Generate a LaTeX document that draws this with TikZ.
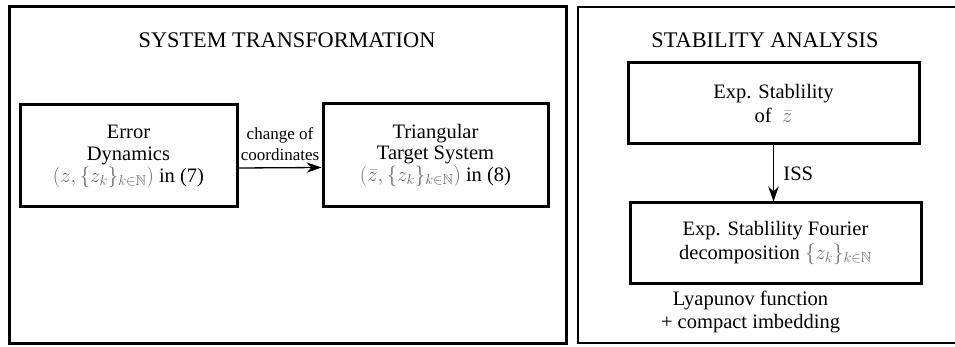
\documentclass[tikz,border=0pt]{standalone}
\usepackage{fontspec}
\setmainfont{Liberation Serif}
\usepackage{amssymb}
\usetikzlibrary{arrows.meta,positioning}
\definecolor{mathgray}{RGB}{105,105,105}
\newcommand{\gm}[1]{{\color{mathgray}$#1$}}
\begin{document}
\begin{tikzpicture}[x=1pt,y=-1pt,
  panel/.style={draw,line width=3pt},
  blk/.style={draw,line width=3pt,align=center,inner sep=0pt,
    font=\fontsize{20.5}{21.5}\selectfont},
  ttl/.style={font=\fontsize{22.3}{24}\selectfont},
  lbl/.style={font=\fontsize{17}{21}\selectfont,align=center},
  txt/.style={font=\fontsize{20.5}{23}\selectfont,align=center},
  arr/.style={line width=1.3pt,-{Stealth[length=15pt,width=10.5pt]}}]
\useasboundingbox (0,0) rectangle (955,347);
\clip (0,0) rectangle (955,347);
\fill[white] (0,0) rectangle (955,347);
% panels
\draw[panel] (9,7) rectangle (566,343);
\draw[line width=2.5pt] (578,7) rectangle (975,343);
% titles
\node[ttl] (t1) at (287,40) {SYSTEM TRANSFORMATION};
\node[ttl] (t2) at (765,40) {STABILITY ANALYSIS};
% left boxes
\node[blk,minimum width=217pt,minimum height=102pt] (ed) at (128.5,156)
  {\raisebox{-4pt}{\begin{tabular}{@{}c@{}}Error\\Dynamics\\\gm{(z,\{z_k\}_{k\in\mathbb{N}})} in (7)\end{tabular}}};
\node[blk,minimum width=225pt,minimum height=103pt] (tt) at (435.5,155.5)
  {\raisebox{-4pt}{\begin{tabular}{@{}c@{}}Triangular\\Target System\\\gm{(\bar z,\{z_k\}_{k\in\mathbb{N}})} in (8)\end{tabular}}};
\draw[arr] ([yshift=-12pt]ed.east) -- ([yshift=-12pt]tt.west)
  node[lbl,midway,above=3pt] (co) {change of\\coordinates};
% right boxes
\node[blk,minimum width=291pt,minimum height=81pt] (es) at (773.5,103.5)
  {Exp. Stablility\\[2pt]of \ \gm{\bar z}};
\node[blk,minimum width=291pt,minimum height=80pt] (ef) at (775.5,243)
  {Exp. Stablility Fourier\\[3pt]decomposition \gm{\{z_k\}_{k\in\mathbb{N}}}};
\draw[arr] (es.south) -- (es.south |- ef.north)
  node[txt,midway,right=6pt] (iss) {ISS};
\node[txt,anchor=north] (ly) at ([xshift=-25pt,yshift=-3pt]ef.south) {Lyapunov function\\+ compact imbedding};
\end{tikzpicture}
\end{document}
